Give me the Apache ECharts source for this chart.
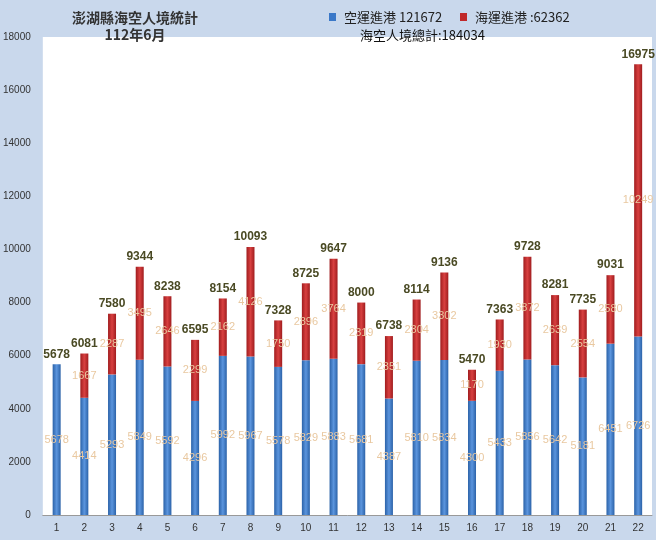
<!DOCTYPE html>
<html><head><meta charset="utf-8">
<script src="https://cdn.jsdelivr.net/npm/echarts@6/dist/echarts.min.js"></script>
<style>html,body{margin:0;padding:0;background:#c9d8ec}#c{width:656px;height:540px}</style>
</head><body><div id="c"></div>
<script>
var categories=['1','2','3','4','5','6','7','8','9','10','11','12','13','14','15','16','17','18','19','20','21','22'];
var airValues=[5678,4414,5293,5849,5592,4296,5992,5967,5578,5829,5883,5681,4387,5810,5834,4300,5433,5856,5642,5181,6451,6726];
var seaValues=[0,1667,2287,3495,2646,2299,2162,4126,1750,2896,3764,2319,2351,2304,3302,1170,1930,3872,2639,2554,2580,10249];
var totals=[5678,6081,7580,9344,8238,6595,8154,10093,7328,8725,9647,8000,6738,8114,9136,5470,7363,9728,8281,7735,9031,16975];
var yTicks=[0,2000,4000,6000,8000,10000,12000,14000,16000,18000];
var inLabel={show:true,position:'inside',color:'#e9c8a0',fontSize:11,fontFamily:'Liberation Sans'};
var chart=echarts.init(document.getElementById('c'));
chart.setOption({
  backgroundColor:'#c9d8ec',
  animation:false,
  title:[
    {text:'澎湖縣海空人境統計\n112年6月',left:130,top:4,textAlign:'center',textStyle:{fontFamily:'Noto Sans CJK TC',fontSize:14,fontWeight:'bold',color:'#333',lineHeight:17}},
    {text:'空運進港 121672',left:339,top:6,textStyle:{fontFamily:'Noto Sans CJK TC',fontSize:13,fontWeight:'normal',color:'#222'}},
    {text:'海運進港 :62362',left:470,top:6,textStyle:{fontFamily:'Noto Sans CJK TC',fontSize:13,fontWeight:'normal',color:'#222'}},
    {text:'海空人境總計:184034',left:355,top:24,textStyle:{fontFamily:'Noto Sans CJK TC',fontSize:13,fontWeight:'normal',color:'#111'}}
  ],
  graphic:[
    {type:'rect',left:329,top:13,shape:{width:7,height:8},style:{fill:'#3a78c8'}},
    {type:'rect',left:460,top:13,shape:{width:7,height:8},style:{fill:'#c0282a'}}
  ],
  grid:{left:38,right:4,top:37,bottom:25,show:true,backgroundColor:'#ffffff',borderWidth:0},
  xAxis:{type:'category',data:categories,axisTick:{show:false},axisLine:{lineStyle:{color:'#999'}},axisLabel:{color:'#333',fontSize:10,margin:8}},
  yAxis:{type:'value',min:0,max:18000,interval:2000,splitLine:{show:false},axisLine:{show:false},axisTick:{show:false},axisLabel:{color:'#333',fontSize:10,margin:12,formatter:function(v){return yTicks.indexOf(v)>=0?String(v):'';}}},
  series:[
    {name:'空運進港',type:'bar',stack:'s',barWidth:8,data:airValues,label:inLabel,
      itemStyle:{color:new echarts.graphic.LinearGradient(0,0,1,0,[{offset:0,color:'#2b62a8'},{offset:0.5,color:'#5b95de'},{offset:1,color:'#2b62a8'}])}},
    {name:'海運進港',type:'bar',stack:'s',barWidth:8,data:seaValues,
      label:Object.assign({},inLabel,{formatter:function(p){return p.value?p.value:'';}}),
      itemStyle:{color:new echarts.graphic.LinearGradient(0,0,1,0,[{offset:0,color:'#a01c1e'},{offset:0.5,color:'#d84040'},{offset:1,color:'#a01c1e'}])}},
    {name:'total',type:'bar',stack:'s',barWidth:8,data:totals.map(function(){return 0;}),
      label:{show:true,position:'top',distance:4,color:'#4a4a24',fontWeight:'bold',fontSize:12,fontFamily:'Liberation Sans',formatter:function(p){return totals[p.dataIndex];}}}
  ]
});
</script></body></html>
